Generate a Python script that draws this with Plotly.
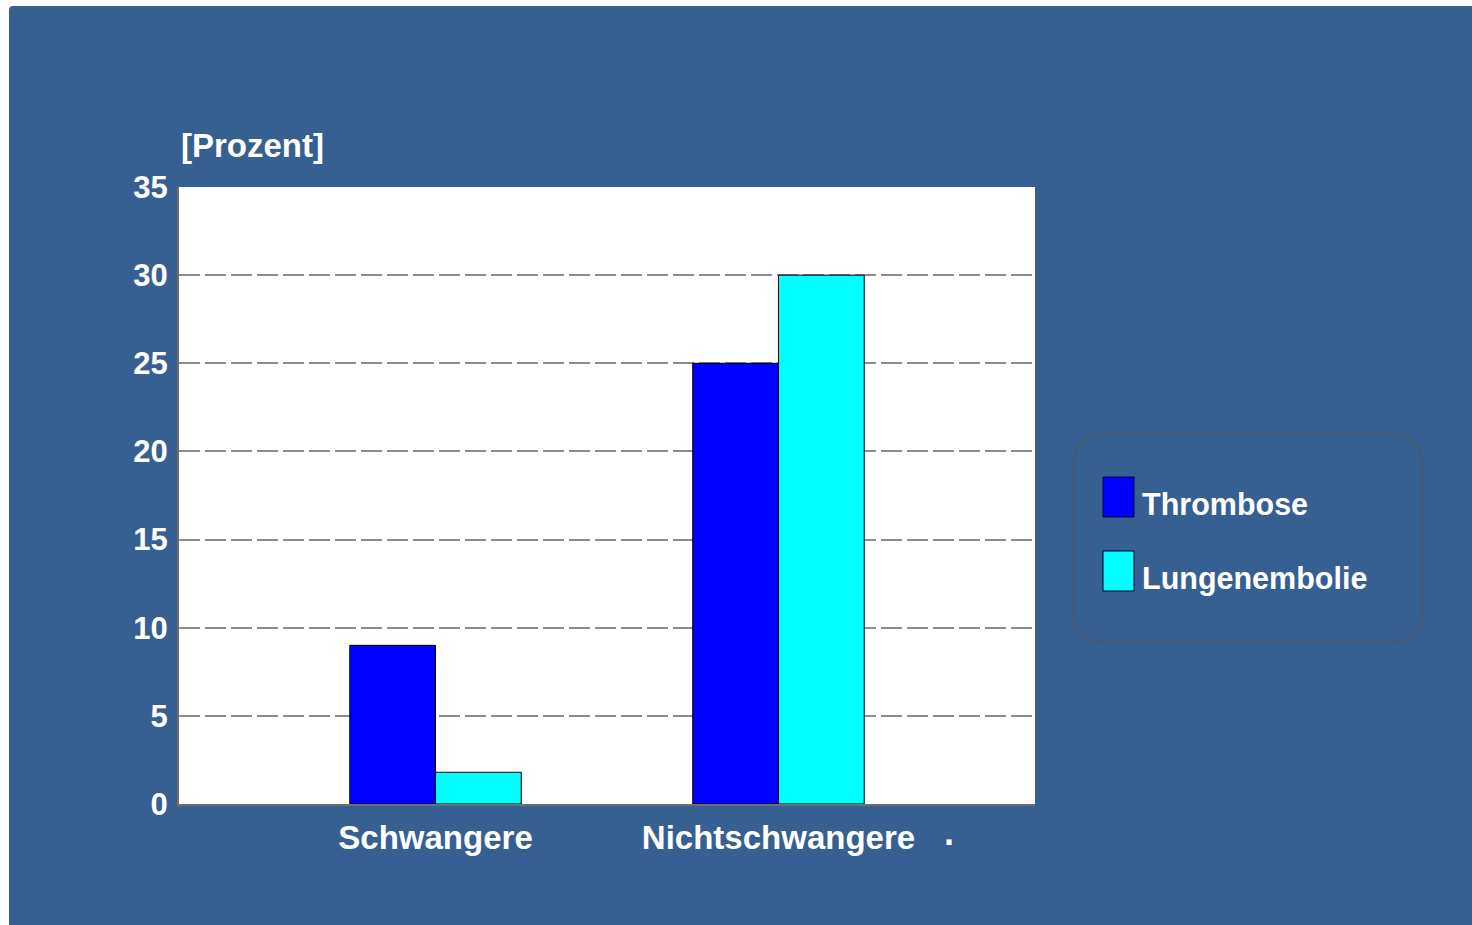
import plotly.graph_objects as go

# Chart data
categories = ["Schwangere", "Nichtschwangere"]
series_names = ["Thrombose", "Lungenembolie"]
thrombose = [9, 25]
lungenembolie = [1.8, 30]
y_ticks = [0, 5, 10, 15, 20, 25, 30, 35]

BG = "#366091"
W, H = 1472, 925
L, R, T, B = 179, 1035, 187, 804  # plot area in pixels


def px(x):
    return (x - L) / (R - L)


def py(y):
    return (B - y) / (B - T)


def rounded_path(x0, y0, x1, y1, r):
    pts = [
        f"M{px(x0 + r)},{py(y0)}",
        f"L{px(x1 - r)},{py(y0)}",
        f"Q{px(x1)},{py(y0)} {px(x1)},{py(y0 + r)}",
        f"L{px(x1)},{py(y1 - r)}",
        f"Q{px(x1)},{py(y1)} {px(x1 - r)},{py(y1)}",
        f"L{px(x0 + r)},{py(y1)}",
        f"Q{px(x0)},{py(y1)} {px(x0)},{py(y1 - r)}",
        f"L{px(x0)},{py(y0 + r)}",
        f"Q{px(x0)},{py(y0)} {px(x0 + r)},{py(y0)}",
        "Z",
    ]
    return " ".join(pts)


FONT = "Liberation Sans, Arial, sans-serif"

fig = go.Figure()
fig.add_trace(go.Bar(
    x=[0, 1], y=thrombose, name=series_names[0],
    marker=dict(color="#0000ff", line=dict(color="#000000", width=1)),
))
fig.add_trace(go.Bar(
    x=[0, 1], y=lungenembolie, name=series_names[1],
    marker=dict(color="#00ffff", line=dict(color="#000000", width=1)),
))

shapes = [
    # slide background
    dict(type="path", xref="paper", yref="paper", layer="below",
         path=rounded_path(9, 6, W + 20, H + 20, 4),
         fillcolor=BG, line=dict(width=0)),
    # white plotting area
    dict(type="rect", xref="paper", yref="paper", layer="below",
         x0=0, x1=1, y0=0, y1=1, fillcolor="#ffffff", line=dict(width=0)),
    # legend frame
    dict(type="path", xref="paper", yref="paper", layer="above",
         path=rounded_path(1073, 434, 1423, 642, 34),
         fillcolor="rgba(0,0,0,0)", line=dict(color="#4d5866", width=1.5)),
]

annotations = [
    dict(text="<b>[Prozent]</b>", xref="paper", yref="paper",
         x=px(179), y=py(146), xanchor="left", yanchor="middle",
         showarrow=False, font=dict(family=FONT, size=33, color="white")),
    dict(text="<b>.</b>", xref="paper", yref="paper",
         x=px(949), y=py(832), xanchor="center", yanchor="middle",
         showarrow=False, font=dict(family=FONT, size=36, color="white")),
]

swatch_colors = ["#0000ff", "#00ffff"]
swatch_tops = [477, 551]
for name, col, top in zip(series_names, swatch_colors, swatch_tops):
    shapes.append(dict(type="rect", xref="paper", yref="paper", layer="above",
                       x0=px(1103), x1=px(1134), y0=py(top + 40), y1=py(top),
                       fillcolor=col, line=dict(color="#000033", width=1)))
    annotations.append(dict(text=f"<b>{name}</b>", xref="paper", yref="paper",
                            x=px(1140), y=py(top + 27), xanchor="left", yanchor="middle",
                            showarrow=False,
                            font=dict(family=FONT, size=30.5, color="white")))

fig.update_layout(
    width=W, height=H,
    margin=dict(l=L, r=W - R, t=T, b=H - B, pad=0),
    paper_bgcolor="#ffffff",
    plot_bgcolor="rgba(0,0,0,0)",
    barmode="group", bargap=0.5, bargroupgap=0,
    showlegend=False,
    shapes=shapes, annotations=annotations,
    font=dict(family=FONT, color="white"),
    xaxis=dict(
        range=[-0.748, 1.748], tickmode="array", tickvals=[0, 1],
        ticktext=[f"<b>{c}</b>" for c in categories],
        tickfont=dict(family=FONT, size=33, color="white"),
        showgrid=False, zeroline=False, ticks="",
        showline=True, linecolor="#6e6e6e", linewidth=2,
        ticklabelstandoff=3, fixedrange=True,
    ),
    yaxis=dict(
        range=[0, 35], tickmode="array", tickvals=y_ticks,
        ticktext=[f"<b>{v}</b>" for v in y_ticks],
        tickfont=dict(family=FONT, size=31, color="white"),
        showgrid=True, gridcolor="#8c8c8c", gridwidth=1.5, griddash="21px,5px",
        zeroline=False, ticks="",
        showline=True, linecolor="#6e6e6e", linewidth=2,
        ticklabelstandoff=3, fixedrange=True,
    ),
)

fig.write_html("out.html")
